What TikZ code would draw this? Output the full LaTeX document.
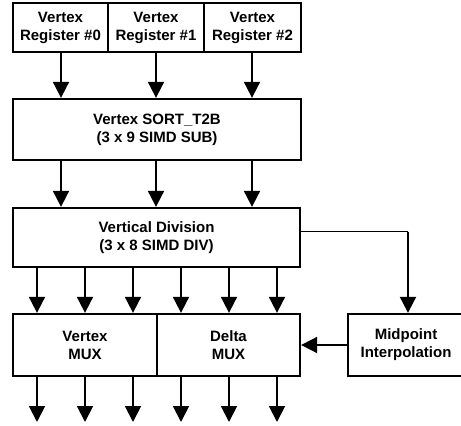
\documentclass[tikz,border=0pt]{standalone}
\usepackage{fontspec}
\setmainfont{Liberation Sans}
\usetikzlibrary{arrows.meta}
\begin{document}
\begin{tikzpicture}[x=1pt,y=-1pt,
  blk/.style={draw,line width=2.3pt,inner sep=0pt,align=center,font=\bfseries\fontsize{15}{18}\selectfont},
  arr/.style={line width=1.9pt,-{Triangle[width=16pt,length=16pt]}},
  ln/.style={line width=1.9pt}]
\useasboundingbox (0,0) rectangle (461,426);
\clip (0,0) rectangle (461,426);
\node[blk,minimum width=95pt,minimum height=49pt] (r0) at (60.5,27.5) {Vertex\\Register \#0};
\node[blk,minimum width=96pt,minimum height=49pt] (r1) at (156,27.5) {Vertex\\Register \#1};
\node[blk,minimum width=97pt,minimum height=49pt] (r2) at (252.5,27.5) {Vertex\\Register \#2};
\node[blk,minimum width=288pt,minimum height=61pt] (sort) at (157,129.5) {Vertex SORT\_T2B\\(3 x 9 SIMD SUB)};
\node[blk,minimum width=287pt,minimum height=59pt] (div) at (156.5,237.5) {Vertical Division\\(3 x 8 SIMD DIV)};
\node[blk,minimum width=144pt,minimum height=62pt] (vmux) at (85,345) {Vertex\\MUX};
\node[blk,minimum width=143pt,minimum height=62pt] (dmux) at (228.5,345) {Delta\\MUX};
\node[blk,minimum width=116pt,minimum height=62pt,text width=110pt] (mid) at (406,345) {Midpoint\\Interpolation};
% register -> sort
\foreach \r/\x in {r0/61,r1/156,r2/252}{
  \draw[arr] (\r.south -| \x,0) -- (sort.north -| \x,0);
}
% sort -> div
\foreach \x in {61,156,252}{
  \draw[arr] (sort.south -| \x,0) -- (div.north -| \x,0);
}
% div -> muxes
\foreach \x in {37,85,133}{
  \draw[arr] (div.south -| \x,0) -- (vmux.north -| \x,0);
}
\foreach \x in {181,229,277}{
  \draw[arr] (div.south -| \x,0) -- (dmux.north -| \x,0);
}
% div -> midpoint
\coordinate (c1) at (408,231.5);
\draw[ln] (div.east |- c1) -- (c1);
\draw[arr] (c1) -- (mid.north -| c1);
% midpoint -> delta mux
\draw[arr] (mid.west) -- (dmux.east);
% outputs
\foreach \x [count=\i] in {37,85,133}{
  \coordinate (ov\i) at (\x,422);
  \draw[arr] (vmux.south -| \x,0) -- (ov\i);
}
\foreach \x [count=\i] in {181,229,277}{
  \coordinate (od\i) at (\x,422);
  \draw[arr] (dmux.south -| \x,0) -- (od\i);
}
\end{tikzpicture}
\end{document}
